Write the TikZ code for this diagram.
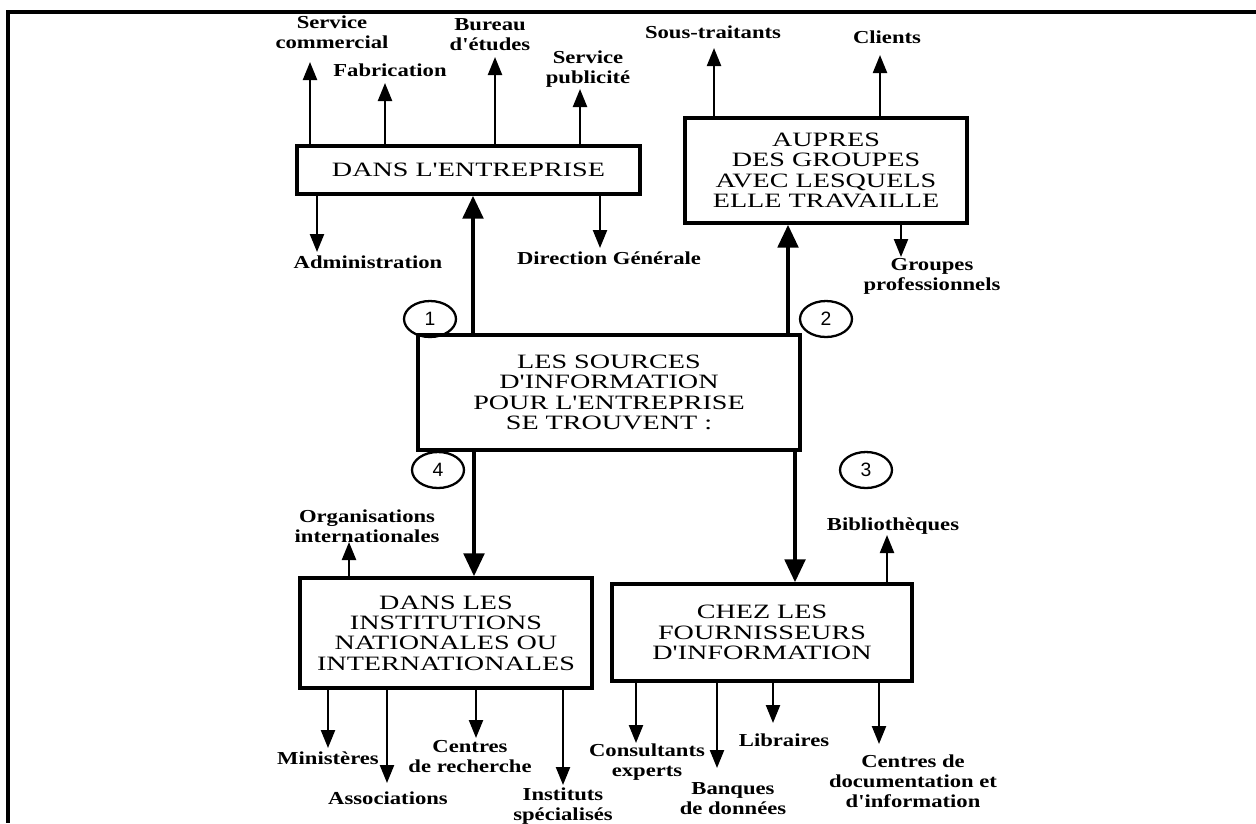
\documentclass[tikz,border=0pt]{standalone}
\usepackage{fontspec}
\setmainfont{Liberation Serif}
\newfontfamily\boxfont{Liberation Serif}[FakeStretch=1.38]
\newfontfamily\labfont{Liberation Serif}[FakeStretch=1.24]
\newfontfamily\numfont{Liberation Sans}
\usetikzlibrary{arrows.meta, shapes.geometric}

\tikzset{
  lieu/.style={draw, line width=1.8pt, inner sep=0pt, align=center,
    font=\boxfont\fontsize{11.6}{11.6}\selectfont},
  etiq/.style={align=center, inner sep=0pt,
    font=\labfont\bfseries\fontsize{10.4}{11.4}\selectfont},
  num/.style={draw, ellipse, line width=1.3pt, minimum width=1.04cm,
    minimum height=0.72cm, inner sep=0pt, font=\numfont\fontsize{11}{11}\selectfont},
  fine/.style={line width=1.3pt, -{Triangle[length=0.36cm, width=0.28cm]}},
  grosse/.style={line width=2.8pt, -{Triangle[length=0.46cm, width=0.4cm]}}
}

\begin{document}
\begin{tikzpicture}[x=0.02cm, y=-0.02cm]
  \useasboundingbox (0,0) rectangle (1256,823);
  % cadre
  \draw[line width=1.8pt] (1256,12) -- (8,12) -- (8,823);

  % les cinq lieux
  \node[lieu, minimum width=6.86cm, minimum height=0.96cm] (entreprise) at (468.5,170) {DANS L'ENTREPRISE};
  \node[lieu, minimum width=5.64cm, minimum height=2.1cm] (groupes) at (826,170.5)
    {AUPRES\\DES GROUPES\\AVEC LESQUELS\\ELLE TRAVAILLE};
  \node[lieu, minimum width=7.64cm, minimum height=2.3cm] (sources) at (609,392.5)
    {LES SOURCES\\D'INFORMATION\\POUR L'ENTREPRISE\\SE TROUVENT :};
  \node[lieu, minimum width=5.84cm, minimum height=2.2cm] (instit) at (446,633)
    {DANS LES\\INSTITUTIONS\\NATIONALES OU\\INTERNATIONALES};
  \node[lieu, minimum width=6cm, minimum height=1.94cm] (fourn) at (762,632.5)
    {CHEZ LES\\FOURNISSEURS\\D'INFORMATION};

  % numeros
  \node[num] (n1) at (430,319) {1};
  \node[num] (n2) at (826,319) {2};
  \node[num] (n3) at (866,470) {3};
  \node[num] (n4) at (438,470) {4};

  % grosses fleches
  \coordinate (g1) at (473,0);
  \coordinate (g2) at (788,0);
  \coordinate (g3) at (795,0);
  \coordinate (g4) at (474,0);
  \draw[grosse] (sources.north -| g1) -- (entreprise.south -| g1);
  \draw[grosse] (sources.north -| g2) -- (groupes.south -| g2);
  \draw[grosse] (sources.south -| g3) -- (fourn.north -| g3);
  \draw[grosse] (sources.south -| g4) -- (instit.north -| g4);

  % petites fleches : nom/x/pointe/ancre de depart
  \foreach \nm/\x/\y/\bx in {sc/310/62/entreprise.north, fab/385/83/entreprise.north,
      be/495/57/entreprise.north, sp/580/89/entreprise.north,
      adm/317/252/entreprise.south, dg/600/248/entreprise.south,
      st/714/48/groupes.north, cli/880/55/groupes.north, gp/901/257/groupes.south,
      oi/349/542/instit.north, min/328/748/instit.south, ass/387/783/instit.south,
      cr/476/738/instit.south, is/563/785/instit.south,
      bib/887/535/fourn.north, ce/636/743/fourn.south, bd/717/768/fourn.south,
      lib/773/723/fourn.south, cd/879/744/fourn.south} {
    \coordinate (t-\nm) at (\x,\y);
    \draw[fine] (\bx -| t-\nm) -- (t-\nm);
  }

  % etiquettes
  \node[etiq] (l-sc) at (332,32) {Service\\commercial};
  \node[etiq] (l-fab) at (390,70) {Fabrication};
  \node[etiq] (l-be) at (490,35) {Bureau\\d'études};
  \node[etiq] (l-sp) at (588,69) {Service\\publicité};
  \node[etiq] (l-adm) at (368,262) {Administration};
  \node[etiq] (l-dg) at (609,258) {Direction Générale};
  \node[etiq] (l-st) at (713,32) {Sous-traitants};
  \node[etiq] (l-cli) at (887,37) {Clients};
  \node[etiq] (l-gp) at (932,276) {Groupes\\professionnels};
  \node[etiq] (l-oi) at (367,526) {Organisations\\internationales};
  \node[etiq] (l-min) at (328,758) {Ministères};
  \node[etiq] (l-ass) at (388,798) {Associations};
  \node[etiq] (l-cr) at (470,757) {Centres\\de recherche};
  \node[etiq] (l-is) at (563,806) {Instituts\\spécialisés};
  \node[etiq] (l-bib) at (893,526) {Bibliothèques};
  \node[etiq] (l-ce) at (647,762) {Consultants\\experts};
  \node[etiq] (l-bd) at (733,799) {Banques\\de données};
  \node[etiq] (l-lib) at (784,740) {Libraires};
  \node[etiq] (l-cd) at (913,781) {Centres de\\documentation et\\d'information};
\end{tikzpicture}
\end{document}
